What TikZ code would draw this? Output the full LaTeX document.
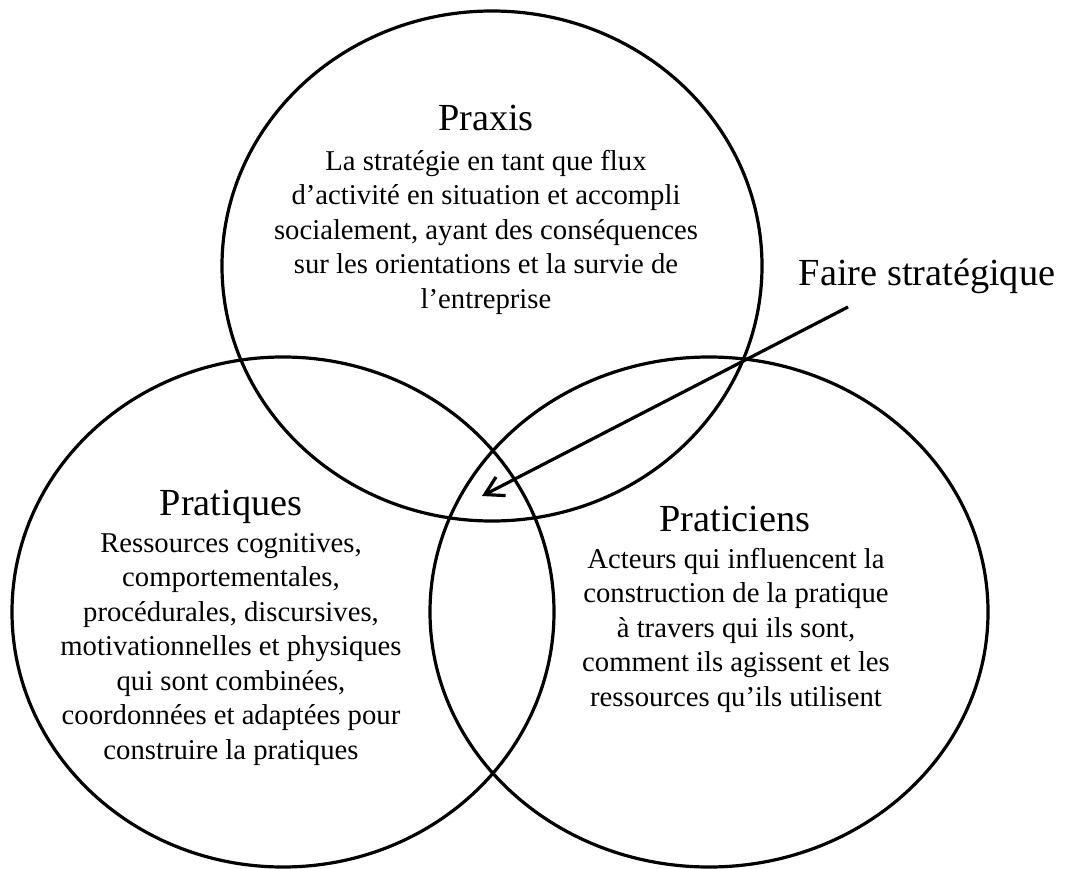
\documentclass[tikz,border=0pt]{standalone}
\usepackage{fontspec}
\setmainfont{Liberation Serif}
\usepackage{tikz}
\usetikzlibrary{arrows.meta}

\tikzset{
  cercle/.style={line width=3.2pt},
  fleche/.style={line width=3.2pt, -{Straight Barb[length=18pt,width=21pt,line width=3.2pt]}},
  titre/.style={inner sep=0, outer sep=0, anchor=base, font=\fontsize{38.3pt}{46pt}\selectfont},
  texte/.style={inner sep=0, outer sep=0, anchor=north, align=center, font=\fontsize{28.7pt}{34.5pt}\selectfont},
}

\begin{document}
\begin{tikzpicture}[x=1pt,y=-1pt]
	\useasboundingbox (0,0) rectangle (1065,869);
	% les trois cercles
	\draw [cercle] (492,266) ellipse (270 and 255);
	\draw [cercle] (283,612) ellipse (271 and 255);
	\draw [cercle] (709,612) ellipse (279 and 255);
	% Praxis
	\node [titre] (praxis) at (486,131) {Praxis};
	\node [texte] (praxis-txt) at (486,150) {La stratégie en tant que flux\\d’activité en situation et accompli\\socialement, ayant des conséquences\\sur les orientations et la survie de\\l’entreprise};
	% Pratiques
	\node [titre] (pratiques) at (231,515) {Pratiques};
	\node [texte] (pratiques-txt) at (231,533) {Ressources cognitives,\\comportementales,\\procédurales, discursives,\\motivationnelles et physiques\\qui sont combinées,\\coordonnées et adaptées pour\\construire la pratiques};
	% Praticiens
	\node [titre] (praticiens) at (735,531) {Praticiens};
	\node [texte] (praticiens-txt) at (736,548) {Acteurs qui influencent la\\construction de la pratique\\à travers qui ils sont,\\comment ils agissent et les\\ressources qu’ils utilisent};
	% faire strategique
	\node [titre] (faire) at (927,285) {Faire stratégique};
	\coordinate (faire-depart) at (848,307);
	\coordinate (coeur) at (482,496);
	\draw [fleche] (faire-depart) -- (coeur);
\end{tikzpicture}
\end{document}
